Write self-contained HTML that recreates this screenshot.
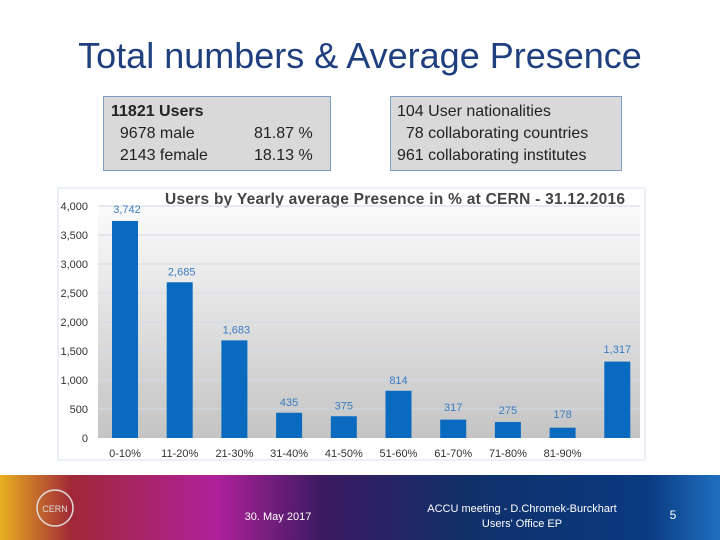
<!DOCTYPE html>
<html><head><meta charset="utf-8"><style>
body{margin:0;width:720px;height:540px;overflow:hidden;background:#fff;font-family:"Liberation Sans",sans-serif;position:relative}
.box{position:absolute;background:#d9d9d9;border:1px solid #7f9fc0;font-size:16px;line-height:22px;color:#222}
</style></head><body>
<div style="position:absolute;left:0;width:720px;top:35px;text-align:center;font-size:36px;color:#1f3f7f">Total numbers &amp; Average Presence</div>
<div class="box" style="left:103px;top:96px;width:226px;height:73px">
<div style="position:absolute;left:7px;top:4px"><b>11821 Users</b><br>&nbsp;&nbsp;9678 male<br>&nbsp;&nbsp;2143 female</div>
<div style="position:absolute;left:150px;top:26px">81.87 %<br>18.13 %</div></div>
<div class="box" style="left:390px;top:96px;width:230px;height:73px">
<div style="position:absolute;left:6px;top:4px">104 User nationalities<br>&nbsp;&nbsp;78 collaborating countries<br>961 collaborating institutes</div></div>
<svg id="chart" width="720" height="540" style="position:absolute;left:0;top:0">
<defs><linearGradient id="pg" x1="0" y1="0" x2="0" y2="1"><stop offset="0" stop-color="#fbfbfb"/><stop offset="1" stop-color="#c4c4c4"/></linearGradient>
<linearGradient id="ft" x1="0" y1="0" x2="1" y2="0"><stop offset="0" stop-color="#e8b020"/><stop offset="0.1" stop-color="#a02838"/><stop offset="0.3" stop-color="#b0209a"/><stop offset="0.45" stop-color="#3a1a60"/><stop offset="0.65" stop-color="#10306a"/><stop offset="0.9" stop-color="#0a3a80"/><stop offset="1" stop-color="#2070c0"/></linearGradient></defs>
<rect x="58" y="188" width="587" height="272" fill="#fff" stroke="#d6e2ec"/>
<rect x="98" y="205" width="542" height="233" fill="url(#pg)"/>
<text x="395" y="204" text-anchor="middle" font-size="15.5" font-weight="bold" fill="#444" textLength="460">Users by Yearly average Presence in % at CERN - 31.12.2016</text>
<g id="g"></g>
<rect x="0" y="475" width="720" height="65" fill="url(#ft)"/>
<circle cx="55" cy="508" r="18" fill="none" stroke="#ddd" stroke-width="1.5"/>
<text x="55" y="512" text-anchor="middle" font-size="9" fill="#ddd">CERN</text>
<text x="278" y="520" text-anchor="middle" font-size="11" fill="#fff">30. May 2017</text>
<text x="522" y="512" text-anchor="middle" font-size="11" fill="#fff">ACCU meeting - D.Chromek-Burckhart</text>
<text x="522" y="527" text-anchor="middle" font-size="11" fill="#fff">Users' Office EP</text>
<text x="673" y="519" text-anchor="middle" font-size="12" fill="#fff">5</text>
</svg>
<script>
const categories=["0-10%","11-20%","21-30%","31-40%","41-50%","51-60%","61-70%","71-80%","81-90%",""];
const values=[3742,2685,1683,435,375,814,317,275,178,1317];
const labels=["3,742","2,685","1,683","435","375","814","317","275","178","1,317"];
const ticks=[0,500,1000,1500,2000,2500,3000,3500,4000];
const ns="http://www.w3.org/2000/svg",g=document.getElementById('g');
const y=v=>438-v*232/4000, x=i=>125+i*54.7;
function mk(t,a){const e=document.createElementNS(ns,t);for(const k in a)e.setAttribute(k,a[k]);g.appendChild(e);return e;}
ticks.forEach(t=>{
 if(t>0){const l=mk('line',{x1:98,x2:640,y1:y(t),y2:y(t),stroke:'#d0dbe6'});
 
 }
 const tx=mk('text',{x:88,y:y(t)+4,'text-anchor':'end','font-size':11,fill:'#333'});tx.textContent=t.toLocaleString('en-US');
 
 
});
values.forEach((v,i)=>{
 const r=mk('rect',{x:x(i)-13,y:y(v),width:26,height:438-y(v),fill:'#0a6abf'});
 
 
 const vl=mk('text',{x:x(i)+(i<3?2:0),y:y(v)-7,'text-anchor':'middle','font-size':11,fill:'#3a7cc0'});
 if(i==0){vl.setAttribute('y',213);} if(i==6){vl.setAttribute('y',411);} if(i==7){vl.setAttribute('y',414);} if(i==8){vl.setAttribute('y',418);} if(i==9){vl.setAttribute('y',353);}
 vl.textContent=labels[i];
 
 
 const cl=mk('text',{x:x(i),y:457,'text-anchor':'middle','font-size':11,fill:'#333'});cl.textContent=categories[i];
 
 
});
</script>
</body></html>
